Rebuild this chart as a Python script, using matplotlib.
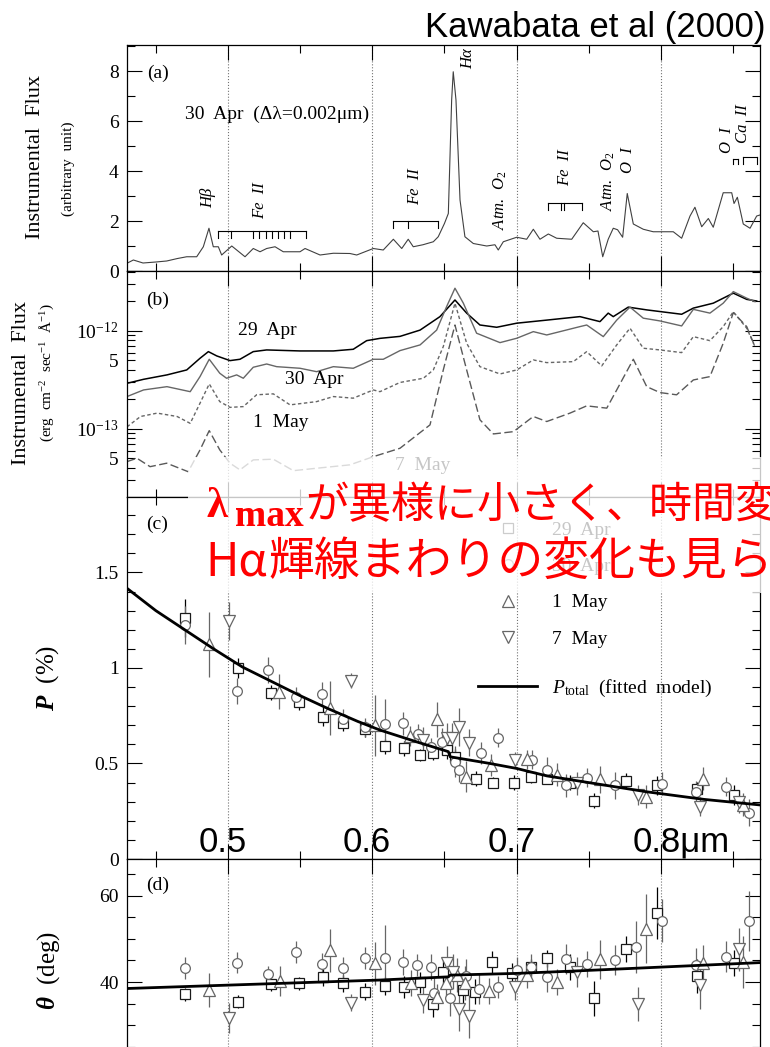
import matplotlib
matplotlib.use('Agg')
import matplotlib.pyplot as plt
from matplotlib.lines import Line2D
from matplotlib.patches import Rectangle
from matplotlib.ticker import MultipleLocator, FixedLocator, LogLocator, FuncFormatter
import numpy as np

plt.rcParams['font.family'] = 'serif'
plt.rcParams['font.serif'] = ['Liberation Serif', 'DejaVu Serif']
plt.rcParams['mathtext.fontset'] = 'custom'
plt.rcParams['mathtext.rm'] = 'Liberation Serif'
plt.rcParams['mathtext.it'] = 'Liberation Serif:italic'
plt.rcParams['mathtext.bf'] = 'Liberation Serif:bold'
plt.rcParams['mathtext.bfit'] = 'Liberation Serif:italic:bold'

# (a) 30 Apr spectrum, arbitrary units
spec_wl = [0.4300, 0.4344, 0.4411, 0.4500, 0.4575, 0.4650, 0.4714, 0.4783, 0.4829, 0.4868,
           0.4898, 0.4933, 0.4956, 0.5026, 0.5118, 0.5175, 0.5222, 0.5268, 0.5326, 0.5383,
           0.5499, 0.5534, 0.5638, 0.5730, 0.5845, 0.5892, 0.6007, 0.6076, 0.6146, 0.6204,
           0.6249, 0.6284, 0.6351, 0.6423, 0.6457, 0.6500, 0.6527, 0.6550, 0.6561, 0.6580,
           0.6608, 0.6642, 0.6700, 0.6793, 0.6850, 0.6873, 0.6908, 0.7001, 0.7070, 0.7116,
           0.7162, 0.7220, 0.7278, 0.7382, 0.7462, 0.7532, 0.7564, 0.7597, 0.7635, 0.7670,
           0.7700, 0.7735, 0.7767, 0.7809, 0.7878, 0.7947, 0.8086, 0.8144, 0.8202, 0.8236,
           0.8283, 0.8329, 0.8363, 0.8432, 0.8491, 0.8507, 0.8530, 0.8571, 0.8618, 0.8664,
           0.8687]
spec_flux = [0.31, 0.44, 0.32, 0.36, 0.40, 0.50, 0.57, 0.57, 0.97, 1.71,
             0.97, 0.97, 0.64, 1.00, 0.57, 0.90, 0.77, 0.90, 0.97, 0.77,
             0.77, 0.90, 0.64, 0.71, 0.70, 0.64, 0.90, 0.84, 1.27, 0.90,
             1.27, 0.97, 1.05, 1.17, 1.37, 1.90, 2.30, 6.84, 7.97, 6.84,
             2.84, 1.37, 1.10, 1.00, 1.05, 0.84, 1.17, 1.35, 1.27, 1.67,
             1.27, 1.48, 1.31, 1.27, 1.93, 1.57, 1.60, 0.57, 1.27, 1.71,
             1.65, 1.35, 3.10, 1.88, 1.67, 1.57, 1.57, 1.31, 2.20, 2.55,
             1.77, 2.10, 1.75, 3.13, 3.13, 2.70, 2.95, 1.88, 1.71, 2.20,
             2.24]

# (b) flux-calibrated spectra, units of 1e-13 erg cm-2 s-1 A-1
apr29_wl = [0.4300, 0.4415, 0.4577, 0.4714, 0.4806, 0.4864, 0.4922, 0.5014, 0.5083, 0.5175,
            0.5268, 0.5499, 0.5730, 0.5868, 0.5961, 0.6053, 0.6192, 0.6331, 0.6469, 0.6573,
            0.6654, 0.6746, 0.6862, 0.7001, 0.7209, 0.7439, 0.7578, 0.7635, 0.7670, 0.7774,
            0.7902, 0.8144, 0.8225, 0.8363, 0.8502, 0.8595, 0.8664]
apr29_flux = [2.92, 3.21, 3.56, 4.00, 5.26, 6.15, 5.56, 4.98, 5.14, 6.15,
              6.40, 6.25, 6.25, 6.50, 7.96, 8.40, 8.80, 10.2, 14.0, 20.7,
              15.2, 11.5, 10.9, 12.0, 12.9, 14.0, 12.45, 15.2, 14.0, 17.5,
              16.4, 14.8, 17.1, 19.2, 24.3, 21.0, 20.2]

apr30_wl = [0.4300, 0.4415, 0.4577, 0.4738, 0.4806, 0.4870, 0.4943, 0.4990, 0.5060, 0.5106,
            0.5175, 0.5268, 0.5337, 0.5499, 0.5614, 0.5730, 0.5868, 0.6007, 0.6076, 0.6192,
            0.6331, 0.6446, 0.6515, 0.6573, 0.6631, 0.6723, 0.6885, 0.7001, 0.7116, 0.7209,
            0.7439, 0.7486, 0.7601, 0.7694, 0.7786, 0.7878, 0.7994, 0.8144, 0.8225, 0.8340,
            0.8432, 0.8502, 0.8595, 0.8652]
apr30_flux = [2.14, 2.50, 2.70, 2.40, 3.42, 5.14, 3.70, 3.29, 3.56, 3.29,
              4.26, 4.60, 4.32, 4.16, 3.84, 4.32, 4.16, 5.14, 5.14, 6.30,
              7.20, 10.2, 17.7, 27.3, 19.2, 9.48, 7.60, 8.42, 9.84, 9.10,
              11.07, 11.5, 8.75, 12.9, 17.5, 13.5, 12.65, 11.25, 16.6, 15.2,
              19.2, 25.2, 21.6, 19.9]

may1_wl = [0.4300, 0.4394, 0.4509, 0.4647, 0.4738, 0.4806, 0.4870, 0.4943, 0.5014, 0.5106,
           0.5198, 0.5314, 0.5430, 0.5614, 0.5730, 0.5868, 0.6007, 0.6053, 0.6192, 0.6354,
           0.6423, 0.6492, 0.6573, 0.6654, 0.6746, 0.6885, 0.7001, 0.7116, 0.7209, 0.7393,
           0.7486, 0.7590, 0.7694, 0.7786, 0.7878, 0.7994, 0.8144, 0.8225, 0.8340, 0.8432,
           0.8502, 0.8595, 0.8652]
may1_flux = [1.05, 1.34, 1.45, 1.34, 1.14, 1.83, 2.88, 1.90, 1.66, 1.69,
             2.23, 2.28, 1.76, 1.90, 2.14, 2.06, 2.50, 2.40, 2.98, 3.29,
             4.00, 6.92, 19.2, 7.49, 4.32, 3.64, 4.00, 5.06, 4.75, 4.86,
             6.15, 4.40, 7.20, 10.66, 6.66, 6.40, 6.01, 8.75, 7.96, 11.07,
             15.7, 10.66, 6.92]

may7_wl = [0.4300, 0.4369, 0.4460, 0.4575, 0.4724, 0.4806, 0.4870, 0.4943, 0.5014, 0.5083,
           0.5175, 0.5314, 0.5453, 0.5614, 0.5845, 0.6007, 0.6192, 0.6400, 0.6492, 0.6573,
           0.6654, 0.6746, 0.6839, 0.6978, 0.7116, 0.7209, 0.7370, 0.7486, 0.7625, 0.7694,
           0.7809, 0.7902, 0.7994, 0.8109, 0.8225, 0.8340, 0.8432, 0.8502, 0.8595, 0.8652]
may7_flux = [0.464, 0.502, 0.412, 0.447, 0.366, 0.611, 0.961, 0.611, 0.447, 0.382,
             0.483, 0.491, 0.375, 0.397, 0.430, 0.521, 0.635, 1.10, 4.00, 11.5,
             4.00, 1.24, 0.889, 0.938, 1.34, 1.19, 1.45, 1.72, 1.63, 2.50,
             5.14, 2.70, 2.35, 2.23, 3.16, 3.42, 7.49, 15.4, 11.07, 6.92]

# (c) polarization degree P (%)
c_apr29_wl = [0.470, 0.507, 0.530, 0.549, 0.566, 0.580, 0.595, 0.609, 0.622, 0.633, 0.642, 0.652,
              0.657, 0.672, 0.684, 0.698, 0.710, 0.721, 0.737, 0.754, 0.776, 0.797, 0.825, 0.851]
c_apr29_p = [1.26, 1.00, 0.87, 0.82, 0.745, 0.71, 0.68, 0.59, 0.58, 0.545, 0.556, 0.573,
             0.536, 0.421, 0.40, 0.40, 0.427, 0.421, 0.40, 0.305, 0.41, 0.387, 0.364, 0.335]
c_apr29_err = [0.10, 0.05, 0.04, 0.04, 0.05, 0.04, 0.04, 0.04, 0.04, 0.03, 0.04, 0.05,
               0.04, 0.04, 0.03, 0.04, 0.03, 0.03, 0.04, 0.04, 0.04, 0.05, 0.04, 0.05]

c_apr30_wl = [0.470, 0.506, 0.528, 0.547, 0.565, 0.580, 0.595, 0.609, 0.621, 0.632, 0.641, 0.648, 0.657,
              0.660, 0.675, 0.687, 0.711, 0.721, 0.734, 0.749, 0.768, 0.801, 0.824, 0.845, 0.861]
c_apr30_p = [1.225, 0.88, 0.99, 0.85, 0.865, 0.735, 0.69, 0.705, 0.71, 0.655, 0.585, 0.615, 0.51,
             0.465, 0.555, 0.635, 0.52, 0.465, 0.385, 0.425, 0.385, 0.395, 0.35, 0.378, 0.242]
c_apr30_err = [0.10, 0.07, 0.07, 0.05, 0.06, 0.05, 0.05, 0.13, 0.06, 0.05, 0.05, 0.07, 0.08,
               0.06, 0.06, 0.05, 0.05, 0.07, 0.06, 0.05, 0.07, 0.06, 0.06, 0.05, 0.07]

c_may1_wl = [0.487, 0.535, 0.571, 0.602, 0.626, 0.645, 0.665, 0.682, 0.707, 0.728, 0.758, 0.790, 0.829, 0.857]
c_may1_p = [1.125, 0.876, 0.79, 0.70, 0.644, 0.731, 0.431, 0.492, 0.521, 0.44, 0.417, 0.326, 0.421, 0.283]
c_may1_err = [0.17, 0.09, 0.14, 0.16, 0.05, 0.09, 0.08, 0.06, 0.05, 0.06, 0.07, 0.06, 0.06, 0.06]

c_may7_wl = [0.501, 0.585, 0.635, 0.652, 0.655, 0.660, 0.667, 0.699, 0.742, 0.784, 0.827, 0.854]
c_may7_p = [1.247, 0.933, 0.623, 0.631, 0.631, 0.692, 0.609, 0.518, 0.396, 0.335, 0.274, 0.30]
c_may7_err = [0.10, 0.04, 0.07, 0.08, 0.08, 0.10, 0.07, 0.04, 0.06, 0.05, 0.05, 0.06]

fit_p_wl = [0.430, 0.450, 0.470, 0.490, 0.510, 0.530, 0.550, 0.570, 0.590, 0.6053,
            0.630, 0.6527, 0.6540, 0.6816, 0.700, 0.721, 0.750, 0.790, 0.830, 0.8687]
fit_p = [1.417, 1.30, 1.20, 1.10, 1.005, 0.93, 0.855, 0.785, 0.72, 0.675,
         0.615, 0.562, 0.535, 0.50, 0.474, 0.435, 0.40, 0.352, 0.312, 0.283]

# (d) position angle theta (deg)
d_apr29_wl = [0.470, 0.507, 0.530, 0.549, 0.566, 0.580, 0.595, 0.609, 0.622, 0.633, 0.642, 0.649,
              0.663, 0.671, 0.683, 0.697, 0.710, 0.721, 0.737, 0.754, 0.776, 0.797, 0.825, 0.851]
d_apr29_th = [37.2, 35.4, 39.5, 39.7, 41.1, 39.7, 37.8, 39.1, 38.8, 39.9, 34.9, 42.4,
              38.1, 37.8, 44.6, 42.0, 43.4, 45.5, 43.4, 36.2, 47.6, 56.0, 41.4, 44.5]
d_apr29_err = [1.5, 1.5, 1.5, 1.5, 2.0, 2.0, 2.0, 2.0, 2.5, 2.5, 3.0, 3.0,
               3.0, 3.0, 2.5, 2.5, 2.0, 2.0, 3.0, 4.0, 3.0, 6.0, 4.0, 3.0]

d_apr30_wl = [0.470, 0.506, 0.528, 0.547, 0.565, 0.580, 0.595, 0.609, 0.621, 0.631, 0.641, 0.643, 0.654, 0.665,
              0.674, 0.687, 0.700, 0.710, 0.721, 0.734, 0.749, 0.768, 0.783, 0.801, 0.824, 0.845, 0.861]
d_apr30_th = [43.2, 44.5, 41.8, 47.0, 44.2, 43.2, 45.6, 45.6, 44.7, 43.9, 43.4, 37.5, 36.2, 41.4,
              38.5, 38.8, 42.8, 43.4, 41.1, 45.3, 44.2, 45.1, 48.2, 54.2, 43.9, 45.9, 54.1]
d_apr30_err = [2.5, 2.5, 2.0, 2.5, 2.5, 2.5, 2.5, 7.5, 3.0, 2.5, 3.0, 3.5, 4.0, 4.0,
               3.5, 2.5, 3.0, 3.0, 3.5, 3.5, 3.0, 3.5, 6.0, 5.0, 4.0, 3.5, 7.0]

d_may1_wl = [0.487, 0.536, 0.571, 0.602, 0.627, 0.645, 0.651, 0.659, 0.664, 0.681, 0.707, 0.728, 0.758, 0.790, 0.829, 0.857]
d_may1_th = [38.2, 40.3, 47.4, 44.3, 39.7, 36.6, 39.7, 41.6, 39.8, 38.0, 41.6, 40.1, 45.3, 52.4, 44.5, 44.7]
d_may1_err = [4.0, 3.5, 5.0, 5.0, 3.0, 3.0, 3.5, 4.0, 4.0, 3.0, 3.0, 3.0, 4.5, 8.0, 4.0, 6.0]

d_may7_wl = [0.501, 0.585, 0.635, 0.652, 0.656, 0.660, 0.667, 0.699, 0.742, 0.784, 0.827, 0.854]
d_may7_th = [31.6, 35.2, 35.8, 44.3, 42.4, 33.7, 32.1, 38.9, 42.4, 34.9, 39.3, 47.6]
d_may7_err = [3.5, 2.0, 3.0, 4.0, 4.0, 5.0, 5.0, 3.0, 3.5, 4.0, 5.5, 5.0]

fit_th_wl = [0.430, 0.6053, 0.6527, 0.6540, 0.700, 0.7434, 0.8687]
fit_th = [38.5, 40.46, 41.2, 41.6, 42.0, 42.6, 44.5]

grid_wl = [0.5, 0.6, 0.7, 0.8]

W, H = 770, 1047
fig = plt.figure(figsize=(W / 100, H / 100), dpi=100)


def fx(x):
    return x / W


def fy(y):
    return 1 - y / H


def ftext(x, y, s, **kw):
    return fig.text(fx(x), fy(y), s, **kw)


def panel(top, bottom):
    return fig.add_axes([fx(127), fy(bottom), (760 - 127) / W, (bottom - top) / H])


def style(ax):
    ax.set_xlim(0.430, 0.8687)
    ax.xaxis.set_major_locator(MultipleLocator(0.1))
    ax.xaxis.set_minor_locator(MultipleLocator(0.05))
    ax.tick_params(which='both', direction='in', top=True, right=True,
                   labelbottom=False, labelsize=14, width=0.8, pad=6)
    ax.tick_params(which='major', length=11)
    ax.tick_params(which='minor', length=6)
    for s in ax.spines.values():
        s.set_linewidth(0.9)
    for w in grid_wl:
        ax.axvline(w, color='0.45', ls=':', lw=0.8, zorder=0)


ax_a = panel(45, 271)
ax_b = panel(271, 497)
ax_c = panel(497, 859)
ax_d = panel(859, 1047)
for ax in (ax_a, ax_b, ax_c, ax_d):
    style(ax)

# (a) spectrum with line identifications
ax_a.plot(spec_wl, spec_flux, color='0.25', lw=0.8)
ax_a.set_ylim(0, 9.04)
ax_a.yaxis.set_major_locator(MultipleLocator(2))
ax_a.yaxis.set_minor_locator(MultipleLocator(1))


def bracket(ax, x0, x1, y, drop, ticks):
    ax.plot([x0, x1], [y, y], color='k', lw=0.8)
    for t in ticks:
        ax.plot([t, t], [y, y - drop], color='k', lw=0.8)


bracket(ax_a, 0.4931, 0.5541, 1.6, 0.28,
        [0.4931, 0.5021, 0.5173, 0.5215, 0.5263, 0.5305, 0.5346, 0.5388, 0.5430, 0.5541])
bracket(ax_a, 0.6146, 0.6457, 2.01, 0.3, [0.6146, 0.6249, 0.6457])
bracket(ax_a, 0.7220, 0.7455, 2.73, 0.3, [0.7220, 0.7308, 0.7331, 0.7455])
bracket(ax_a, 0.8501, 0.8536, 4.47, 0.2, [0.8501, 0.8536])
bracket(ax_a, 0.8571, 0.8664, 4.55, 0.27, [0.8571, 0.8664])

line_kw = dict(rotation=90, ha='center', va='center', style='italic', size=12)
ftext(208, 198, 'Hβ', **line_kw)
ftext(260, 201, 'Fe  II', **line_kw)
ftext(415, 187, 'Fe  II', **line_kw)
ftext(468, 59, 'Hα', **line_kw)
ftext(500, 200, 'Atm.  O$_2$', **line_kw)
ftext(565, 168, 'Fe  II', **line_kw)
ftext(608, 181, 'Atm.  O$_2$', **line_kw)
ftext(628, 160, 'O  I', **line_kw)
ftext(727, 140, 'O  I', **line_kw)
ftext(743, 124, 'Ca  II', **line_kw)

ftext(158, 73, '(a)', size=14, ha='center', va='center')
ftext(185, 119, '30  Apr  (Δλ=0.002μm)', size=14, ha='left', va='baseline')
ftext(36, 157, 'Instrumental  Flux', size=16, rotation=90, ha='center', va='center')
ftext(68, 169, '(arbitrary  unit)', size=11, rotation=90, ha='center', va='center')

# (b) flux-calibrated spectra
scale = 1e-13
ax_b.plot(np.array(apr29_wl), np.array(apr29_flux) * scale, color='k', lw=1.1)
ax_b.plot(np.array(apr30_wl), np.array(apr30_flux) * scale, color='0.4', lw=1.0)
ax_b.plot(np.array(may1_wl), np.array(may1_flux) * scale, color='0.4', lw=1.0, dashes=(2.5, 1.8))
ax_b.plot(np.array(may7_wl), np.array(may7_flux) * scale, color='0.35', lw=1.0, dashes=(6, 2.5))
ax_b.set_yscale('log')
ax_b.set_ylim(2.02e-14, 4.09e-12)
ax_b.yaxis.set_major_locator(FixedLocator([1e-13, 1e-12]))
ax_b.yaxis.set_major_formatter(FuncFormatter(lambda v, _: '$10^{%d}$' % round(np.log10(v))))
ax_b.yaxis.set_minor_locator(LogLocator(base=10, subs=np.arange(2, 10)))


def five_only(v, _):
    m = v / 10 ** np.floor(np.log10(v) + 1e-9)
    return '5' if abs(m - 5) < 0.01 else ''


ax_b.yaxis.set_minor_formatter(FuncFormatter(five_only))
ax_b.tick_params(axis='y', which='minor', labelsize=14)

ftext(158, 300, '(b)', size=14, ha='center', va='center')
ftext(238, 335, '29  Apr', size=14, ha='left', va='baseline')
ftext(285, 384, '30  Apr', size=14, ha='left', va='baseline')
ftext(253, 427, '1  May', size=14, ha='left', va='baseline')
ftext(395, 470, '7  May', size=14, ha='left', va='baseline')
ftext(22, 383, 'Instrumental  Flux', size=16, rotation=90, ha='center', va='center')
ftext(47, 373, '(erg  cm$^{-2}$  sec$^{-1}$  Å$^{-1}$)', size=11, rotation=90, ha='center', va='center')

# (c) degree of polarization
sets = [
    ('s', '0.1', 'k', 6.8),
    ('o', '0.4', '0.4', 7.0),
    ('^', '0.4', '0.4', 8.0),
    ('v', '0.4', '0.4', 8.0),
]
c_data = [(c_apr29_wl, c_apr29_p, c_apr29_err), (c_apr30_wl, c_apr30_p, c_apr30_err),
          (c_may1_wl, c_may1_p, c_may1_err), (c_may7_wl, c_may7_p, c_may7_err)]
d_data = [(d_apr29_wl, d_apr29_th, d_apr29_err), (d_apr30_wl, d_apr30_th, d_apr30_err),
          (d_may1_wl, d_may1_th, d_may1_err), (d_may7_wl, d_may7_th, d_may7_err)]

for ax, data in ((ax_c, c_data), (ax_d, d_data)):
    for (m, mec, ec, ms), (x, y, e) in zip(sets, data):
        ax.errorbar(x, y, yerr=e, fmt=m, ms=ms, mfc='white', mec=mec, mew=0.9,
                    ecolor=ec, elinewidth=0.9, capsize=0, zorder=2)

ax_c.plot(fit_p_wl, fit_p, color='k', lw=2.0, zorder=4)
ax_c.set_ylim(0, 1.895)
ax_c.yaxis.set_major_locator(MultipleLocator(0.5))
ax_c.yaxis.set_minor_locator(MultipleLocator(0.1))
ax_c.yaxis.set_major_formatter(FuncFormatter(lambda v, _: '%g' % v))

handles = [Line2D([], [], ls='none', marker=m, ms=ms, mfc='white', mec=mec, mew=0.9)
           for m, mec, ec, ms in sets]
leg1 = ax_c.legend(handles, ['29  Apr', '30  Apr', '1  May', '7  May'],
                   loc='center left', bbox_to_anchor=(fx(498), fy(584.5)),
                   bbox_transform=fig.transFigure, frameon=False, fontsize=14,
                   handlelength=1.0, handletextpad=1.77, labelspacing=0.96,
                   borderpad=0, borderaxespad=0)
ax_c.add_artist(leg1)
ax_c.legend([Line2D([], [], color='k', lw=2.0)], [r'$P_{\rm total}$  (fitted  model)'],
            loc='center left', bbox_to_anchor=(fx(478), fy(688)),
            bbox_transform=fig.transFigure, frameon=False, fontsize=14,
            handlelength=3.04, handletextpad=0.77, borderpad=0, borderaxespad=0)

ftext(157, 524, '(c)', size=14, ha='center', va='center')
ftext(48, 678, r'$\mathbfit{P}$  (%)', size=18, rotation=90, ha='center', va='center')

# (d) position angle
ax_d.plot(fit_th_wl, fit_th, color='k', lw=2.0, zorder=4)
ax_d.set_ylim(24.95, 68.5)
ax_d.yaxis.set_major_locator(MultipleLocator(20))
ax_d.yaxis.set_minor_locator(MultipleLocator(5))
ax_d.spines['bottom'].set_visible(False)
ax_d.tick_params(which='both', bottom=False)
ftext(158, 885, '(d)', size=14, ha='center', va='center')
ftext(49, 970, r'$\mathbfit{\theta}$  (deg)', size=18, rotation=90, ha='center', va='center')

# large wavelength labels
sans = ['Liberation Sans', 'DejaVu Sans']
ftext(223, 852, '0.5', family=sans, size=25, ha='center', va='baseline')
ftext(367, 852, '0.6', family=sans, size=25, ha='center', va='baseline')
ftext(512, 852, '0.7', family=sans, size=25, ha='center', va='baseline')
ftext(633, 852, '0.8μm', family=sans, size=25, ha='left', va='baseline')

ftext(425, 37, 'Kawabata et al (2000)', family=sans, size=25, ha='left', va='baseline')

# comment box
fig.add_artist(Rectangle((fx(188), fy(593)), (770 - 188) / W, (593 - 457) / H,
                         transform=fig.transFigure, facecolor='white', edgecolor='none',
                         alpha=0.78, zorder=10))
red = '#ff0000'
cjk = ['Noto Sans CJK JP', 'DejaVu Sans']
note_kw = dict(color=red, ha='left', va='baseline', zorder=11)
ftext(207, 517, 'λ', family=['Liberation Serif'], weight='bold', size=31, **note_kw)
ftext(235, 526, 'max', family=['Liberation Serif'], weight='bold', size=27, **note_kw)
ftext(305, 518, 'が異様に小さく、時間変化', family=cjk, size=31, **note_kw)
ftext(205, 575, 'Hα', family=cjk, size=33, **note_kw)
ftext(268, 575, '輝線まわりの変化も見られる', family=cjk, size=33, **note_kw)

fig.savefig('out.png', dpi=100)
